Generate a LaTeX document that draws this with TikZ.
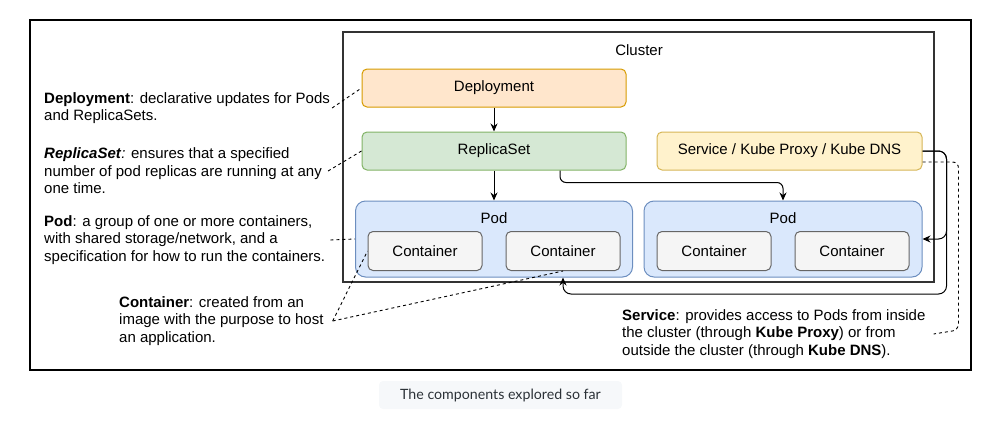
\documentclass[tikz,border=0pt]{standalone}
\usepackage{fontspec}
\setmainfont{Liberation Sans}
\newfontfamily\captionfont{Lato}
\usetikzlibrary{arrows.meta,positioning,calc}
\definecolor{deplfill}{HTML}{FFE6CC}
\definecolor{deplline}{HTML}{D79B00}
\definecolor{rsfill}{HTML}{D5E8D4}
\definecolor{rsline}{HTML}{82B366}
\definecolor{svcfill}{HTML}{FFF2CC}
\definecolor{svcline}{HTML}{D6B656}
\definecolor{podfill}{HTML}{DAE8FC}
\definecolor{podline}{HTML}{6C8EBF}
\definecolor{ctrfill}{HTML}{F5F5F5}
\definecolor{ctrline}{HTML}{666666}
\definecolor{capfill}{HTML}{F6F8FA}
\definecolor{captext}{HTML}{2B3137}

\begin{document}
\begin{tikzpicture}[x=1pt,y=-1pt,font=\fontsize{15}{17.5}\selectfont,
  comp/.style={rounded corners=5pt,line width=1pt,minimum width=264pt,minimum height=38pt},
  podbox/.style={draw=podline,fill=podfill,rounded corners=10pt,line width=1pt,minimum width=277pt,minimum height=76pt},
  ctrbox/.style={draw=ctrline,fill=ctrfill,rounded corners=5pt,line width=1pt,minimum width=114pt,minimum height=39pt},
  note/.style={align=left,inner sep=0pt,anchor=west},
  link/.style={-{Stealth[length=8pt,width=7pt]},line width=1pt},
  lead/.style={dash pattern=on 3pt off 3pt,line width=0.9pt}]
\useasboundingbox (0,0) rectangle (1003,431);
\draw[line width=2.2pt] (30,20) rectangle (971,370);
\draw[line width=1.4pt,draw=black!80] (343,32) rectangle (934,282);
\node (cluster) at (639,50) {Cluster};
\node[comp,draw=deplline,fill=deplfill] (deploy) at (494,88) {Deployment};
\node[comp,draw=rsline,fill=rsfill] (rs) at (494,151) {ReplicaSet};
\node[comp,draw=svcline,fill=svcfill,minimum width=265pt] (svc) at (789.5,151) {Service / Kube Proxy / Kube DNS};
\node[podbox] (pod1) at (494,239) {};
\node[podbox,minimum width=278pt] (pod2) at (783,239) {};
\node (pod1lbl) at ([yshift=-18pt]pod1.north) {Pod};
\node (pod2lbl) at ([yshift=-18pt]pod2.north) {Pod};
\node[ctrbox] (c1) at (425,251) {Container};
\node[ctrbox] (c2) at (563,251) {Container};
\node[ctrbox] (c3) at (714,251) {Container};
\node[ctrbox] (c4) at (852,251) {Container};
\node[note] (deplnote) at (44,108) {\textbf{Deployment}: declarative updates for Pods\\and ReplicaSets.};
\node[note] (rsnote) at (44,171) {\textbf{\textit{ReplicaSet}}\textit{:} ensures that a specified\\number of pod replicas are running at any\\one time.};
\node[note] (podnote) at (44,240) {\textbf{Pod}: a group of one or more containers,\\with shared storage/network, and a\\specification for how to run the containers.};
\node[note] (ctrnote) at (119,321) {\textbf{Container}: created from an\\image with the purpose to host\\an application.};
\node[note] (svcnote) at (622,334) {\textbf{Service}: provides access to Pods from inside\\the cluster (through \textbf{Kube Proxy}) or from\\outside the cluster (through \textbf{Kube DNS}).};
\node[fill=capfill,rounded corners=4pt,minimum width=243pt,minimum height=28pt,text=captext,font=\captionfont\fontsize{14.2}{16}\selectfont] (caption) at (500.5,395) {The components explored so far};
\draw[link] (deploy) -- (rs);
\draw[link] (rs) -- (pod1);
\draw[link,rounded corners=6pt] ([xshift=66pt]rs.south) -- ++(0,12) -| (pod2.north);
\draw[link,rounded corners=8pt] (svc.east) -- ++(24,0) |- (pod2.east);
\draw[link,rounded corners=8pt] (svc.east) -- ++(24,0) -- ++(0,143) -| ([xshift=69pt]pod1.south);
\draw[lead,rounded corners=6pt] ([yshift=-11pt]svc.east) -- ++(36,0) -- ++(0,168) -- ([xshift=8pt]svcnote.east);
\draw[lead] ([xshift=2pt]deplnote.east) -- (deploy.west);
\draw[lead] ([xshift=6pt]rsnote.east) -- (rs.west);
\draw[lead] ([xshift=5pt]podnote.east) -- (pod1.west);
\draw[lead] ([xshift=9pt]ctrnote.east) -- (c1.west);
\draw[lead] ([xshift=9pt]ctrnote.east) -- (c2.south);
\end{tikzpicture}
\end{document}
